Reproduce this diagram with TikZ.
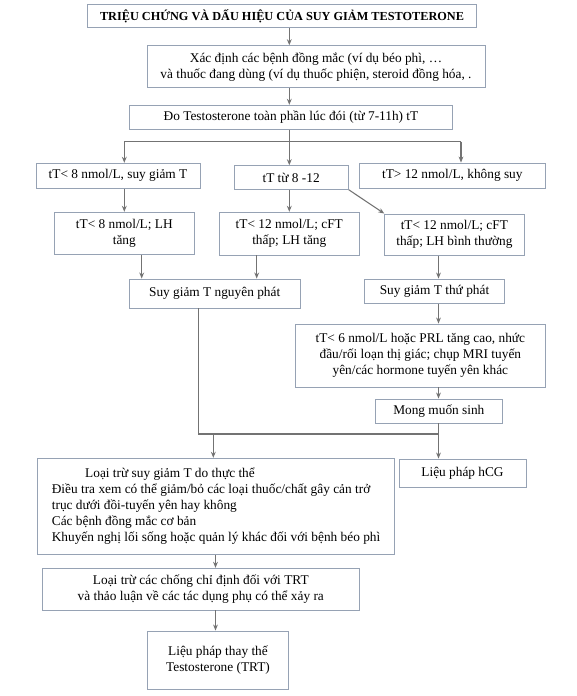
\documentclass[tikz,border=0pt]{standalone}
\usepackage{fontspec}
\setmainfont{Liberation Serif}
\usetikzlibrary{arrows.meta}
\definecolor{boxc}{RGB}{150,162,180}
\definecolor{arrc}{RGB}{115,115,115}
\tikzset{
 box/.style={draw=boxc, line width=0.7pt, inner sep=0pt, align=center, font=\fontsize{10}{12}\selectfont},
 arr/.style={draw=arrc, line width=0.8pt, -{Stealth[length=4.5pt,width=3.6pt]}},
 ln/.style={draw=arrc, line width=0.8pt},
}
\newcommand\bx[6]{\node[box, minimum width={(#4-#2)*0.75pt}, minimum height={(#5-#3)*0.75pt}] (#1) at ({(#2+#4)/2},{(#3+#5)/2}) {#6};}
\begin{document}
\begin{tikzpicture}[x=0.75pt,y=-0.75pt]
\fill[white] (0,0) rectangle (576,696);
\useasboundingbox (0,0) rectangle (576,696);
\bx{t}{87.3}{4.3}{476.7}{27.7}{\bfseries\fontsize{9.2}{11}\selectfont TRIỆU CHỨNG VÀ DẤU HIỆU CỦA SUY GIẢM TESTOTERONE}
\bx{b2}{147}{45.7}{485}{87.7}{Xác định các bệnh đồng mắc (ví dụ béo phì, …\\và thuốc đang dùng (ví dụ thuốc phiện, steroid đồng hóa, .}
\bx{b3}{129.3}{105.3}{452.7}{129.3}{Đo Testosterone toàn phần lúc đói (từ 7-11h) tT}
\bx{a}{36}{163.3}{200}{188.3}{tT< 8 nmol/L, suy giảm T}
\bx{b}{234}{165.7}{348.3}{189.3}{tT từ 8 -12}
\bx{c}{359.3}{163}{545.3}{188.3}{tT> 12 nmol/L, không suy}
\bx{d}{54.3}{212.3}{194.3}{254.3}{tT< 8 nmol/L; LH\\tăng}
\bx{e}{219.3}{212.3}{359.3}{255}{tT< 12 nmol/L; cFT\\thấp; LH tăng}
\bx{f}{384.7}{214}{524}{255.3}{tT< 12 nmol/L; cFT\\thấp; LH bình thường}
\bx{np}{129.3}{279}{300}{308}{Suy giảm T nguyên phát}
\bx{tp}{364.7}{279}{504.3}{303.3}{Suy giảm T thứ phát}
\bx{g}{295.7}{324}{545}{387}{tT< 6 nmol/L hoặc PRL tăng cao, nhức\\đầu/rối loạn thị giác; chụp MRI tuyến\\yên/các hormone tuyến yên khác}
\bx{m}{375.7}{399}{502}{423}{Mong muốn sinh}
\node[box, align=left, minimum width={357.2*0.75pt}, minimum height={96*0.75pt}] (big) at ({(37.5+394.7)/2},{(458.3+554.3)/2})
 {\hspace*{25pt}Loại trừ suy giảm T do thực thể\\Điều tra xem có thể giảm/bỏ các loại thuốc/chất gây cản trở\\trục dưới đồi-tuyến yên hay không\\Các bệnh đồng mắc cơ bản\\Khuyến nghị lối sống hoặc quản lý khác đối với bệnh béo phì};
\bx{h}{399}{459}{526}{487}{Liệu pháp hCG}
\bx{k}{42.3}{568.3}{359.3}{610}{Loại trừ các chống chỉ định đối với TRT\\và thảo luận về các tác dụng phụ có thể xảy ra}
\bx{z}{147.3}{631}{288.7}{689.3}{Liệu pháp thay thế\\Testosterone (TRT)}
% helper coordinates
\coordinate (x1) at (289.3,0);
\coordinate (xl) at (124.3,0);
\coordinate (xr) at (461,0);
\coordinate (br) at (0,141.7);
\coordinate (xd) at (141.7,0);
\coordinate (xe) at (256.7,0);
\coordinate (xm) at (438.5,0);
\coordinate (xn) at (198.7,0);
\coordinate (jn) at (0,434);
\coordinate (xb) at (213.3,0);
\coordinate (xk) at (215.5,0);
% connectors
\draw[arr] (t.south -| x1) -- (b2.north -| x1);
\draw[arr] (b2.south -| x1) -- (b3.north -| x1);
\draw[arr] (b3.south -| x1) -- (b.north -| x1);
\draw[ln] (xl |- br) -- (xr |- br);
\draw[arr] (xl |- br) -- (a.north -| xl);
\draw[arr] (xr |- br) -- (c.north -| xr);
\draw[arr] (a.south -| xl) -- (d.north -| xl);
\draw[arr] (b.south -| x1) -- (e.north -| x1);
\draw[arr] (b.south east) -- (f.north west);
\draw[arr] (d.south -| xd) -- (np.north -| xd);
\draw[arr] (e.south -| xe) -- (np.north -| xe);
\draw[arr] (f.south -| xm) -- (tp.north -| xm);
\draw[arr] (tp.south -| xm) -- (g.north -| xm);
\draw[arr] (g.south -| xm) -- (m.north -| xm);
\draw[arr] (m.south -| xm) -- (h.north -| xm);
\draw[ln] (np.south -| xn) -- (xn |- jn) -- (xm |- jn);
\draw[arr] (xb |- jn) -- (big.north -| xb);
\draw[arr] (big.south -| xk) -- (k.north -| xk);
\draw[arr] (k.south -| xk) -- (z.north -| xk);
\end{tikzpicture}
\end{document}
